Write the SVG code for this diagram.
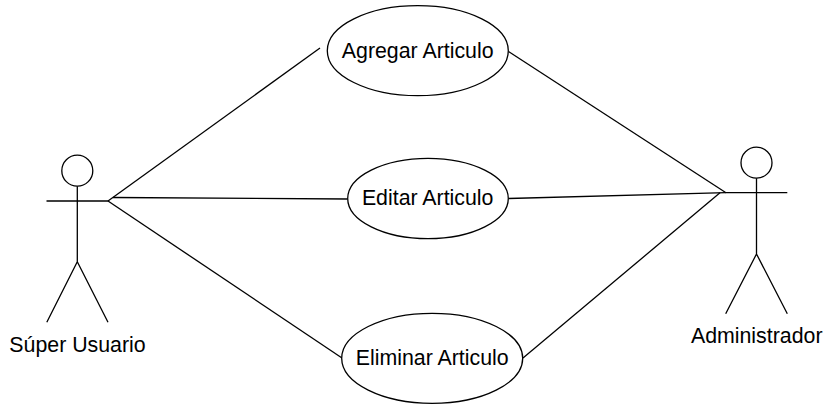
<svg xmlns="http://www.w3.org/2000/svg" width="826" height="404" viewBox="0 0 826 404">
<style>
.s{fill:none;stroke:#000;stroke-width:1.3}
.e{fill:#fff;stroke:#000;stroke-width:1.3}
text{font-family:"Liberation Sans",Arial,sans-serif;font-size:21.33px;fill:#000;text-anchor:middle}
</style>
<rect width="826" height="404" fill="#fff"/>
<g id="connectors">
<path class="s" d="M108 201L320 48"/>
<path class="s" d="M113 197.500L347.500 199"/>
<path class="s" d="M108 201L342 358"/>
<path class="s" d="M508.500 51.500L726 192.700"/>
<path class="s" d="M508.500 198.500L726 192.700"/>
<path class="s" d="M523 358L720 192.800"/>
</g>
<g id="actor-super">
<circle class="s" cx="77.300" cy="170.700" r="15.500"/>
<path class="s" d="M77.300 186.200V261.700M46.500 201H108M77.300 261.700L46.800 322.300M77.300 261.700L108 322.300"/>
<text x="77.500" y="352">Súper Usuario</text>
</g>
<g id="actor-admin">
<circle class="s" cx="756.500" cy="162.700" r="15.500"/>
<path class="s" d="M756.500 178.200V254M725.700 192.700H787.300M756.500 254L725.700 313.700M756.500 254L787.300 313.700"/>
<text x="756.700" y="343">Administrador</text>
</g>
<g id="uc-agregar">
<ellipse class="e" cx="417.800" cy="50.700" rx="90.500" ry="45"/>
<text x="417.700" y="58">Agregar Articulo</text>
</g>
<g id="uc-editar">
<ellipse class="e" cx="428" cy="198.500" rx="80.300" ry="40.200"/>
<text x="427.700" y="205">Editar Articulo</text>
</g>
<g id="uc-eliminar">
<ellipse class="e" cx="432.200" cy="358.300" rx="90.500" ry="45"/>
<text x="432.200" y="365">Eliminar Articulo</text>
</g>
</svg>
